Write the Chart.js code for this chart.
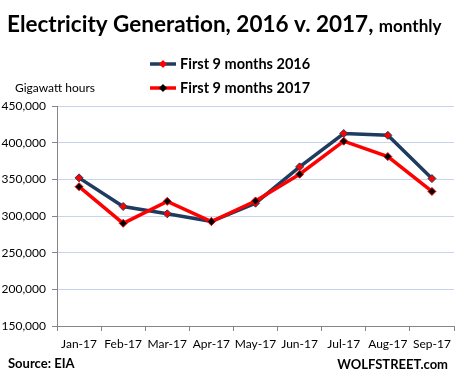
<!DOCTYPE html>
<html>
<head>
<meta charset="utf-8">
<script src="https://cdn.jsdelivr.net/npm/chart.js@4"></script>
<style>
  html, body { margin: 0; padding: 0; background: #ffffff; }
  #wrap { width: 459px; height: 384px; }
</style>
</head>
<body>
<div id="wrap"><canvas id="canvasChart" width="459" height="384"></canvas></div>
<script>
var months = ["Jan-17", "Feb-17", "Mar-17", "Apr-17", "May-17", "Jun-17", "Jul-17", "Aug-17", "Sep-17"];
var gen2016 = [352000, 313000, 303000, 292500, 317500, 367000, 412500, 410000, 351000];
var gen2017 = [340000, 290000, 320000, 292500, 320500, 357000, 402000, 381000, 333500];
var yTicks = [150000, 200000, 250000, 300000, 350000, 400000, 450000];

var FONT = "Lato, 'Open Sans', sans-serif";
var navy = '#1f3b5e';
var red = '#ff0000';

var overlay = {
    id: 'overlay',
    afterDraw: function (chart) {
        var ctx = chart.ctx;
        ctx.save();
        ctx.fillStyle = '#000';
        ctx.textBaseline = 'alphabetic';
        ctx.textAlign = 'left';

        // title
        ctx.font = "bold 22.5px " + FONT;
        var t1 = "Electricity Generation, 2016 v. 2017,";
        ctx.fillText(t1, 7, 32);
        var w = ctx.measureText(t1 + " ").width;
        ctx.font = "bold 17px " + FONT;
        ctx.fillText("monthly", 7 + w, 32);

        // legend
        var rows = [
            { label: "First 9 months 2016", line: navy, mark: red, y: 64 },
            { label: "First 9 months 2017", line: red, mark: '#000', y: 88 }
        ];
        rows.forEach(function (r) {
            ctx.strokeStyle = r.line;
            ctx.lineWidth = 3.5;
            ctx.beginPath();
            ctx.moveTo(150, r.y);
            ctx.lineTo(176, r.y);
            ctx.stroke();
            ctx.fillStyle = r.mark;
            ctx.beginPath();
            ctx.moveTo(163, r.y - 4);
            ctx.lineTo(167, r.y);
            ctx.lineTo(163, r.y + 4);
            ctx.lineTo(159, r.y);
            ctx.closePath();
            ctx.fill();
            ctx.fillStyle = '#000';
            ctx.font = "bold 14.5px " + FONT;
            ctx.fillText(r.label, 180, r.y + 5);
        });

        // axis title
        ctx.font = "12px " + FONT;
        ctx.fillText("Gigawatt hours", 15, 92);

        // footer
        ctx.font = "bold 13px " + FONT;
        ctx.fillText("Source: EIA", 8, 368);
        ctx.textAlign = 'right';
        ctx.fillText("WOLFSTREET.com", 448, 369);
        ctx.restore();
    }
};

var canvas = document.getElementById("canvasChart").getContext('2d');

var chartConfig = {
    type: 'line',
    data: {
        labels: months,
        datasets: [{
            label: 'First 9 months 2016',
            data: gen2016,
            borderColor: navy,
            borderWidth: 3.5,
            pointStyle: 'rectRot',
            pointRadius: 4,
            pointBackgroundColor: red,
            pointBorderColor: navy,
            pointBorderWidth: 1,
            tension: 0,
            order: 2
        }, {
            label: 'First 9 months 2017',
            data: gen2017,
            borderColor: red,
            borderWidth: 3.5,
            pointStyle: 'rectRot',
            pointRadius: 4,
            pointBackgroundColor: '#000000',
            pointBorderColor: red,
            pointBorderWidth: 1,
            tension: 0,
            order: 1
        }]
    },
    options: {
        responsive: false,
        animation: false,
        layout: { padding: { left: 0, right: 2, top: 106, bottom: 0 } },
        plugins: {
            legend: { display: false },
            title: { display: false },
            tooltip: { enabled: false }
        },
        scales: {
            x: {
                offset: true,
                afterFit: function (s) { s.height = 58; },
                grid: { offset: true, drawOnChartArea: false, drawTicks: true, tickLength: 5, color: '#868686' },
                border: { color: '#868686', width: 1 },
                ticks: { color: '#000', font: { family: FONT, size: 12 }, padding: 6, maxRotation: 0, autoSkip: false }
            },
            y: {
                min: 150000,
                max: 450000,
                afterFit: function (s) { s.width = 57; },
                afterBuildTicks: function (s) { s.ticks = yTicks.map(function (v) { return { value: v }; }); },
                grid: { color: '#c5d6ec', tickColor: '#868686', tickLength: 5, lineWidth: 1 },
                border: { color: '#868686', width: 1 },
                ticks: {
                    color: '#000',
                    font: { family: FONT, size: 12 },
                    padding: 6,
                    callback: function (v) { return v.toLocaleString('en-US'); }
                }
            }
        }
    },
    plugins: [overlay]
};

var chartObject = new Chart(canvas, chartConfig);
</script>
</body>
</html>
